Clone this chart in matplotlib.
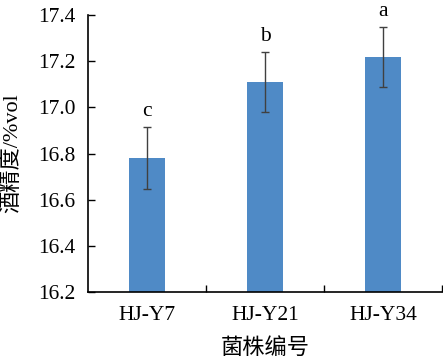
import matplotlib
matplotlib.use("Agg")
import matplotlib.pyplot as plt
import numpy as np

# strain ids and alcohol content (%vol)
strains = ["HJ-Y7", "HJ-Y21", "HJ-Y34"]
alcohol = [16.78, 17.11, 17.22]
errors = [0.135, 0.13, 0.13]
letters = ["c", "b", "a"]
yticks = [16.2, 16.4, 16.6, 16.8, 17.0, 17.2, 17.4]

plt.rcParams["font.family"] = ["Liberation Serif", "Noto Sans CJK SC"]

fig = plt.figure(figsize=(4.43, 3.60), dpi=100)
ax = fig.add_axes([0.199, 0.189, 0.799, 0.769])

x = np.arange(len(strains))
ax.bar(x, [v - 16.2 for v in alcohol], bottom=16.2, width=0.31, color="#4F8AC6", zorder=2)
ax.errorbar(x, alcohol, yerr=errors, fmt="none", ecolor="#404040",
            elinewidth=1.0, capsize=3, capthick=1.0, zorder=3)

for xi, v, e, lab in zip(x, alcohol, errors, letters):
    ax.text(xi, v + e + 0.025, lab, ha="center", va="bottom", fontsize=15.5)

ax.set_xlim(-0.5, 2.5)
ax.set_ylim(16.2, 17.4)
ax.set_yticks(yticks)
ax.set_yticklabels([f"{t:.1f}" for t in yticks])
ax.set_xticks(x)
ax.set_xticklabels(strains)
ax.set_xticks([0.5, 1.5, 2.5], minor=True)

ax.tick_params(axis="x", which="major", length=0, labelsize=15.5, pad=10)
ax.tick_params(axis="x", which="minor", direction="in", length=5, width=1)
ax.tick_params(axis="y", direction="in", length=5, width=1, labelsize=15.5, pad=9)

for s in ["top", "right"]:
    ax.spines[s].set_visible(False)
for s in ["left", "bottom"]:
    ax.spines[s].set_linewidth(1.2)

ax.set_ylabel("酒精度/%vol", fontsize=16)
ax.set_xlabel("菌株编号", fontsize=16)
ax.yaxis.set_label_coords(-0.215, 0.5)
ax.xaxis.set_label_coords(0.5, -0.205)
ax.xaxis.label.set_va("center")
ax.yaxis.label.set_va("center")

fig.savefig("out.png", dpi=100)
